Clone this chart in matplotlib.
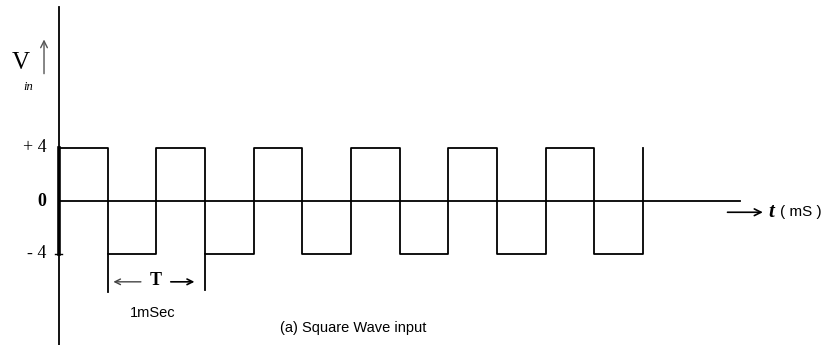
import matplotlib as mpl
mpl.use('Agg')
import matplotlib.pyplot as plt

# square wave input: +/-4 V, period T = 1 ms, six cycles
edge_times = [0, 0, 0.5, 1.0, 1.5, 2.0, 2.5, 3.0, 3.5, 4.0, 4.5, 5.0, 5.5, 6.0]
levels = [-4, 4, -4, 4, -4, 4, -4, 4, -4, 4, -4, 4, -4, 4]
tick_vals = [4, 0, -4]
tick_labels = ['+ 4', '0', '- 4']
period_start, period_end = 0.5, 1.5
t_axis_end = 7.0

SERIF = ['Liberation Serif', 'DejaVu Serif']
SANS = ['Liberation Sans', 'DejaVu Sans']

W, H = 824, 345
x0, y0 = 59, 201          # origin in pixels
px_ms, px_v = 97.33, 13.25

fig = plt.figure(figsize=(W / 100, H / 100), dpi=100)
ax = fig.add_axes([0, 0, 1, 1])
ax.set_xlim(-x0 / px_ms, (W - x0) / px_ms)
ax.set_ylim(-(H - y0) / px_v, y0 / px_v)
ax.axis('off')

ymin, ymax = ax.get_ylim()
lw = 1.3

# axes
ax.plot([0, 0], [ymin, (y0 - 7) / px_v], color='black', lw=lw)
ax.plot([0, t_axis_end], [0, 0], color='black', lw=lw)
ax.plot([-0.045, 0.03], [-4, -4], color='black', lw=1.0)

# waveform
ax.step(edge_times, levels, where='post', color='black', lw=lw)
ax.plot([0, 0], [-4, 4], color='black', lw=2.6)

# tick labels
for v, lab in zip(tick_vals, tick_labels):
    bold = lab == '0'
    ax.text(-0.13, v, lab, ha='right', va='center', family=SERIF,
            fontsize=13, fontweight='bold' if bold else 'normal')

# y label with up arrow
ax.text(-0.49, 10.4, 'V', ha='left', va='center', family=SERIF, fontsize=18)
ax.text(-0.37, 8.6, 'in', ha='left', va='center', family=SERIF,
        fontsize=9, style='italic')
ax.annotate('', xy=(-0.154, 12.4), xytext=(-0.154, 9.4),
            arrowprops=dict(arrowstyle='->', color='#555555', lw=1.0,
                            mutation_scale=12))

# period marker
y_mark = -6.1
ax.plot([period_start, period_start], [-4, -6.9], color='black', lw=lw)
ax.plot([period_end, period_end], [-4, -6.7], color='black', lw=lw)
ax.annotate('', xy=(period_start + 0.03, y_mark), xytext=(0.87, y_mark),
            arrowprops=dict(arrowstyle='->', color='#444444', lw=1.0,
                            mutation_scale=10))
ax.annotate('', xy=(period_end - 0.08, y_mark), xytext=(1.12, y_mark),
            arrowprops=dict(arrowstyle='->', color='black', lw=1.2,
                            mutation_scale=10))
ax.text(0.99, y_mark + 0.1, 'T', ha='center', va='center', family=SERIF,
        fontsize=13, fontweight='bold')
ax.text(0.96, -8.45, '1mSec', ha='center', va='center', family=SANS,
        fontsize=10.5)

# time axis label
y_t = -0.85
ax.annotate('', xy=(7.26, y_t), xytext=(6.84, y_t),
            arrowprops=dict(arrowstyle='->', color='black', lw=1.2,
                            mutation_scale=12))
ax.text(7.29, y_t, 't', ha='left', va='center', family=SERIF,
        fontsize=15, fontweight='bold', style='italic')
ax.text(7.41, y_t, '( mS )', ha='left', va='center', family=SANS,
        fontsize=11)

ax.text(3.02, -9.6, '(a) Square Wave input', ha='center', va='center',
        family=SANS, fontsize=10.5)

fig.savefig('out.png', dpi=100)
plt.close()
